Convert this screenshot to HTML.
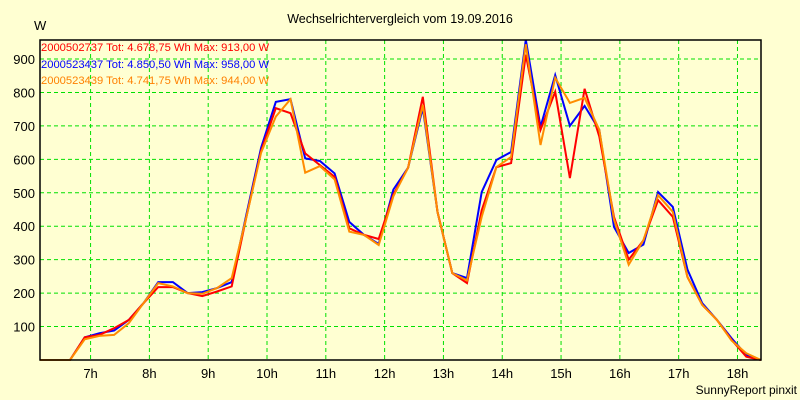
<!DOCTYPE html>
<html><head><meta charset="utf-8"><style>
body{margin:0;background:#ffffd2;}
svg{display:block;font-family:"Liberation Sans",sans-serif;}
</style></head><body>
<svg id="chart" width="800" height="400" viewBox="0 0 800 400">
<rect x="0" y="0" width="800" height="400" fill="#ffffd2"/>
<text x="400" y="23" font-size="12.5" text-anchor="middle" fill="#000">Wechselrichtervergleich vom 19.09.2016</text>
<text x="34" y="30" font-size="13" fill="#000">W</text>
<text x="797" y="394" font-size="12" text-anchor="end" fill="#000">SunnyReport pinxit</text>
<g id="grid"></g><g id="axes"></g><g id="series"></g>
<rect x="40" y="40" width="721" height="320" fill="none" stroke="#000" stroke-width="1.5"/>
<g font-size="11.2">
<text x="41" y="51" fill="#ff0000">2000502737 Tot: 4.678,75 Wh Max: 913,00 W</text>
<text x="41" y="68" fill="#0000ff">2000523437 Tot: 4.850,50 Wh Max: 958,00 W</text>
<text x="41" y="84" fill="#ff8000">2000523439 Tot: 4.741,75 Wh Max: 944,00 W</text>
</g>
</svg>
<script>
const startHour = 6.65;
const stepHours = 0.25;
const yTicks = [100,200,300,400,500,600,700,800,900];
const xTicks = [7,8,9,10,11,12,13,14,15,16,17,18];
const seriesRed = [0,68,75,95,120,170,218,218,200,191,205,220,428,625,753,738,618,583,548,394,374,362,495,575,787,443,260,230,448,577,589,913,688,802,544,811,668,428,300,358,478,428,248,165,120,60,10,0];
const seriesBlue = [0,68,80,88,120,170,233,233,200,203,215,233,435,635,772,780,603,595,558,413,374,347,510,575,754,443,260,245,502,598,622,958,697,852,700,760,688,398,320,345,502,458,270,170,120,65,15,0];
const seriesOrange = [0,62,72,75,110,170,230,220,200,198,215,245,428,620,728,780,560,580,540,384,374,344,490,575,763,443,260,238,428,577,607,944,643,844,769,784,688,420,285,358,493,443,248,165,120,58,20,0];
const xMin=6.14, xMax=18.4, pxL=40, pxR=761, pxT=40, pxB=360, vMax=957;
function xs(t){return pxL+(t-xMin)/(xMax-xMin)*(pxR-pxL);}
function ys(v){return pxB-v/vMax*(pxB-pxT);}
const NS="http://www.w3.org/2000/svg";
const grid=document.getElementById('grid'), axes=document.getElementById('axes'), ser=document.getElementById('series');
yTicks.forEach(v=>{
 const l=document.createElementNS(NS,'line');
 
 
 l.setAttribute('x1',pxL);l.setAttribute('x2',pxR);l.setAttribute('y1',ys(v));l.setAttribute('y2',ys(v));
 l.setAttribute('stroke','#00e000');l.setAttribute('stroke-dasharray','4,3');grid.appendChild(l);
 const t=document.createElementNS(NS,'text');
 
 
 t.setAttribute('x',35);t.setAttribute('y',ys(v)+5);t.setAttribute('font-size','13');t.setAttribute('text-anchor','end');
 t.textContent=v;axes.appendChild(t);
});
xTicks.forEach(h=>{
 const l=document.createElementNS(NS,'line');
 
 
 l.setAttribute('x1',xs(h));l.setAttribute('x2',xs(h));l.setAttribute('y1',pxT);l.setAttribute('y2',pxB);
 l.setAttribute('stroke','#00e000');l.setAttribute('stroke-dasharray','4,3');grid.appendChild(l);
 const t=document.createElementNS(NS,'text');
 
 
 t.setAttribute('x',xs(h));t.setAttribute('y',378);t.setAttribute('font-size','13');t.setAttribute('text-anchor','middle');
 t.textContent=h+'h';axes.appendChild(t);
});
function draw(data,color,name){
 const p=document.createElementNS(NS,'polyline');
 
 
 const pts=[xs(xMin).toFixed(1)+','+ys(0).toFixed(1)].concat(data.map((v,i)=>xs(startHour+i*stepHours).toFixed(1)+','+ys(v).toFixed(1)));
 p.setAttribute('points',pts.join(' '));
 p.setAttribute('fill','none');p.setAttribute('stroke',color);p.setAttribute('stroke-width','2');
 ser.appendChild(p);
}
draw(seriesBlue,'#0000ff','series-2000523437');
draw(seriesRed,'#ff0000','series-2000502737');
draw(seriesOrange,'#ff8c00','series-2000523439');
</script>
</body></html>
